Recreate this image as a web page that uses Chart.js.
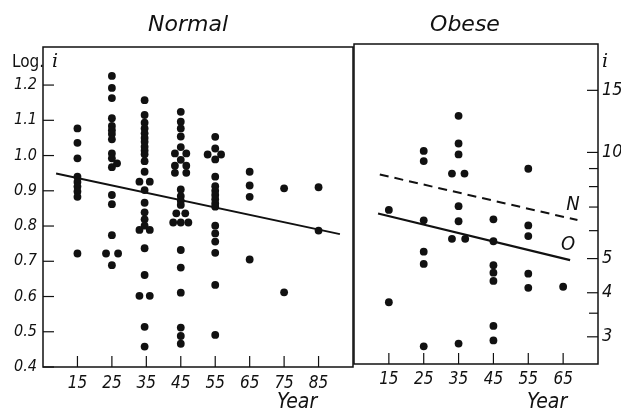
<!DOCTYPE html>
<html>
<head>
<meta charset="utf-8">
<script src="https://cdn.jsdelivr.net/npm/chart.js@4.4.1/dist/chart.umd.min.js"></script>
<style>
  html, body { margin: 0; padding: 0; background: #fff; }
  #wrap { position: relative; width: 621px; height: 412px; overflow: hidden; }
  canvas { position: absolute; }
  #normalChart { left: 0; top: 0; }
  #obeseChart { left: 350px; top: -3px; }
</style>
</head>
<body>
<div id="wrap">
  <canvas id="normalChart" width="358" height="412"></canvas>
  <canvas id="obeseChart" width="271" height="412"></canvas>
</div>
<script>
// Normal group: age (year) and log i
const normalYear = [
  15, 15, 15, 15, 15, 15, 15, 15, 15,
  25, 25, 25, 25, 25, 25, 25, 25, 25, 25, 25, 25, 25, 25, 25, 26.5, 23.3, 26.8,
  34.5, 34.5, 34.5, 34.5, 34.5, 34.5, 34.5, 34.5, 34.5, 34.5, 34.5, 34.5, 34.5, 34.5, 34.5, 34.5, 34.5, 34.5, 34.5, 34.5, 34.5,
  33, 36, 33, 36, 33, 36,
  45, 45, 45, 45, 45, 45, 45, 45, 45, 45, 45, 45, 45, 45, 45, 45, 45,
  43.3, 46.6, 43.3, 46.6, 43.3, 46.6, 43.7, 46.3, 42.8, 47.2,
  55, 55, 55, 55, 55, 55, 55, 55, 55, 55, 55, 55, 55, 55, 55, 55, 52.8, 56.7,
  65, 65, 65, 65,
  75, 75,
  85, 85
];
const normalLogI = [
  1.077, 1.036, 0.992, 0.940, 0.925, 0.912, 0.898, 0.883, 0.722,
  1.226, 1.192, 1.163, 1.106, 1.084, 1.072, 1.061, 1.046, 1.006, 0.992, 0.967, 0.888, 0.862, 0.774, 0.689, 0.978, 0.722, 0.722,
  1.157, 1.115, 1.093, 1.077, 1.063, 1.050, 1.039, 1.025, 1.014, 1.004, 0.984, 0.954, 0.902, 0.866, 0.839, 0.819, 0.801, 0.737, 0.661, 0.514, 0.458,
  0.926, 0.926, 0.789, 0.789, 0.602, 0.602,
  1.124, 1.096, 1.077, 1.054, 1.024, 0.988, 0.904, 0.885, 0.872, 0.860, 0.810, 0.732, 0.682, 0.611, 0.512, 0.488, 0.466,
  1.006, 1.006, 0.971, 0.971, 0.951, 0.951, 0.836, 0.836, 0.810, 0.810,
  1.053, 1.020, 0.989, 0.940, 0.913, 0.900, 0.888, 0.876, 0.864, 0.855, 0.801, 0.779, 0.756, 0.724, 0.633, 0.491, 1.003, 1.003,
  0.954, 0.915, 0.883, 0.705,
  0.907, 0.612,
  0.910, 0.787
];

// Obese group: age (year) and i
const obeseYear = [
  15, 15,
  25, 25, 25, 25, 25, 25,
  35, 35, 35, 35, 35, 35, 33.1, 36.7, 33.1, 36.9,
  45, 45, 45, 45, 45, 45, 45,
  55, 55, 55, 55, 55,
  65
];
const obeseI = [
  6.87, 3.76,
  10.1, 9.45, 6.42, 5.23, 4.83, 2.82,
  12.7, 10.6, 9.87, 7.04, 6.38, 2.87, 8.71, 8.71, 5.69, 5.69,
  6.46, 5.60, 4.79, 4.56, 4.32, 3.22, 2.93,
  8.99, 6.21, 5.79, 4.53, 4.13,
  4.16
];

// regression lines
const normalFitYear = [8.8, 91.2];
const normalFitLogI = [0.949, 0.777];
const obeseFitYear = [11.9, 67];
const obeseFitI = [6.71, 4.95];
const normalOnObeseYear = [12.4, 69.1];
const normalOnObeseI = [8.66, 6.43];

// ticks
const normalYearTicks = [15, 25, 35, 45, 55, 65, 75, 85];
const obeseYearTicks = [15, 25, 35, 45, 55, 65];
const logTicks = [0.4, 0.5, 0.6, 0.7, 0.8, 0.9, 1.0, 1.1, 1.2];
const iTicks = [3, 3.5, 4, 5, 6, 7, 8, 9, 10, 15];
const iLabels = [3, 4, 5, 10, 15];

const zip = (xs, ys) => xs.map((x, k) => ({ x: x, y: ys[k] }));

const FAMILY = '"Liberation Sans Narrow", "DejaVu Sans Condensed", "DejaVu Sans", sans-serif';
const INK = '#111';

// frame, inward tick marks and free text
const framePlugin = {
  id: 'frame',
  afterDraw(chart, args, opts) {
    const ctx = chart.ctx;
    const a = chart.chartArea;
    ctx.save();
    ctx.strokeStyle = INK;
    ctx.lineWidth = 1.5;
    ctx.strokeRect(a.left, a.top, a.right - a.left, a.bottom - a.top);

    ctx.lineWidth = 1.2;
    const xs = chart.scales.x;
    xs.ticks.forEach(t => {
      const px = xs.getPixelForValue(t.value);
      ctx.beginPath();
      ctx.moveTo(px, a.bottom);
      ctx.lineTo(px, a.bottom - 11);
      ctx.stroke();
    });
    const ys = chart.scales.y;
    const right = ys.position === 'right';
    ys.ticks.forEach(t => {
      const py = ys.getPixelForValue(t.value);
      const len = t.label === '' ? 9 : 11;
      ctx.beginPath();
      if (right) {
        ctx.moveTo(a.right, py);
        ctx.lineTo(a.right - len, py);
      } else {
        ctx.moveTo(a.left, py);
        ctx.lineTo(a.left + len, py);
      }
      ctx.stroke();
    });

    ctx.fillStyle = INK;
    ctx.textBaseline = 'alphabetic';
    (opts.texts || []).forEach(t => {
      ctx.font = t.font;
      ctx.textAlign = t.align || 'left';
      ctx.fillText(t.text, t.x, t.y);
    });
    ctx.restore();
  }
};

const tickFont = { family: FAMILY, size: 17, style: 'italic' };
const yFont = { family: FAMILY, size: 16, style: 'italic' };
const noGrid = { display: false, drawTicks: false };

new Chart(document.getElementById('normalChart'), {
  type: 'scatter',
  data: {
    datasets: [
      { data: zip(normalYear, normalLogI), backgroundColor: INK, pointRadius: 3.9, pointBorderWidth: 0 },
      { data: zip(normalFitYear, normalFitLogI), showLine: true, borderColor: INK, borderWidth: 2, pointRadius: 0 }
    ]
  },
  options: {
    responsive: false,
    animation: false,
    events: [],
    layout: { padding: { top: 47, right: 5, left: 0, bottom: 0 } },
    plugins: {
      legend: { display: false },
      tooltip: { enabled: false },
      frame: {
        texts: [
          { text: 'Normal', x: 188, y: 31, font: 'italic 22px "DejaVu Sans"', align: 'center' },
          { text: 'Log.', x: 12, y: 67, font: '17px "DejaVu Sans Condensed", "DejaVu Sans"' },
          { text: 'i', x: 52, y: 67, font: 'italic 19px "DejaVu Serif"' },
          { text: 'Year', x: 277, y: 408, font: 'italic 21px "DejaVu Sans Condensed", "DejaVu Sans"' }
        ]
      }
    },
    scales: {
      x: {
        type: 'linear', min: 5, max: 95,
        grid: noGrid, border: { display: false },
        afterBuildTicks: s => { s.ticks = normalYearTicks.map(v => ({ value: v })); },
        afterFit: s => { s.height = 45; },
        ticks: { padding: 6, color: INK, font: tickFont, maxRotation: 0, autoSkip: false, callback: v => String(v) }
      },
      y: {
        type: 'linear', min: 0.4, max: 1.308,
        grid: noGrid, border: { display: false },
        afterBuildTicks: s => { s.ticks = logTicks.map(v => ({ value: v })); },
        afterFit: s => { s.width = 43; },
        ticks: { padding: 6, color: INK, font: yFont, autoSkip: false, callback: v => v.toFixed(1) }
      }
    }
  },
  plugins: [framePlugin]
});

new Chart(document.getElementById('obeseChart'), {
  type: 'scatter',
  data: {
    datasets: [
      { data: zip(obeseYear, obeseI), backgroundColor: INK, pointRadius: 3.9, pointBorderWidth: 0 },
      { data: zip(obeseFitYear, obeseFitI), showLine: true, borderColor: INK, borderWidth: 2.2, pointRadius: 0 },
      { data: zip(normalOnObeseYear, normalOnObeseI), showLine: true, borderColor: INK, borderWidth: 2, borderDash: [9, 6], pointRadius: 0 }
    ]
  },
  options: {
    responsive: false,
    animation: false,
    events: [],
    layout: { padding: { top: 47, right: 0, left: 3, bottom: 0 } },
    plugins: {
      legend: { display: false },
      tooltip: { enabled: false },
      frame: {
        texts: [
          { text: 'Obese', x: 115, y: 34, font: 'italic 22px "DejaVu Sans"', align: 'center' },
          { text: 'i', x: 252, y: 70, font: 'italic 19px "DejaVu Serif"' },
          { text: 'N', x: 223, y: 213, font: 'italic 20px "DejaVu Sans Condensed", "DejaVu Sans"', align: 'center' },
          { text: 'O', x: 218, y: 253, font: 'italic 20px "DejaVu Sans Condensed", "DejaVu Sans"', align: 'center' },
          { text: 'Year', x: 177, y: 411, font: 'italic 21px "DejaVu Sans Condensed", "DejaVu Sans"' }
        ]
      }
    },
    scales: {
      x: {
        type: 'linear', min: 5, max: 75,
        grid: noGrid, border: { display: false },
        afterBuildTicks: s => { s.ticks = obeseYearTicks.map(v => ({ value: v })); },
        afterFit: s => { s.height = 45; },
        ticks: { padding: 5, color: INK, font: tickFont, maxRotation: 0, autoSkip: false, callback: v => String(v) }
      },
      y: {
        type: 'logarithmic', position: 'right', min: 2.512, max: 20.3,
        grid: noGrid, border: { display: false },
        afterBuildTicks: s => { s.ticks = iTicks.map(v => ({ value: v })); },
        afterFit: s => { s.width = 23; },
        ticks: {
          padding: 4, color: INK, font: { family: FAMILY, size: 18, style: 'italic' }, autoSkip: false,
          callback: v => (iLabels.includes(v) ? String(v) : '')
        }
      }
    }
  },
  plugins: [framePlugin]
});
</script>
</body>
</html>
